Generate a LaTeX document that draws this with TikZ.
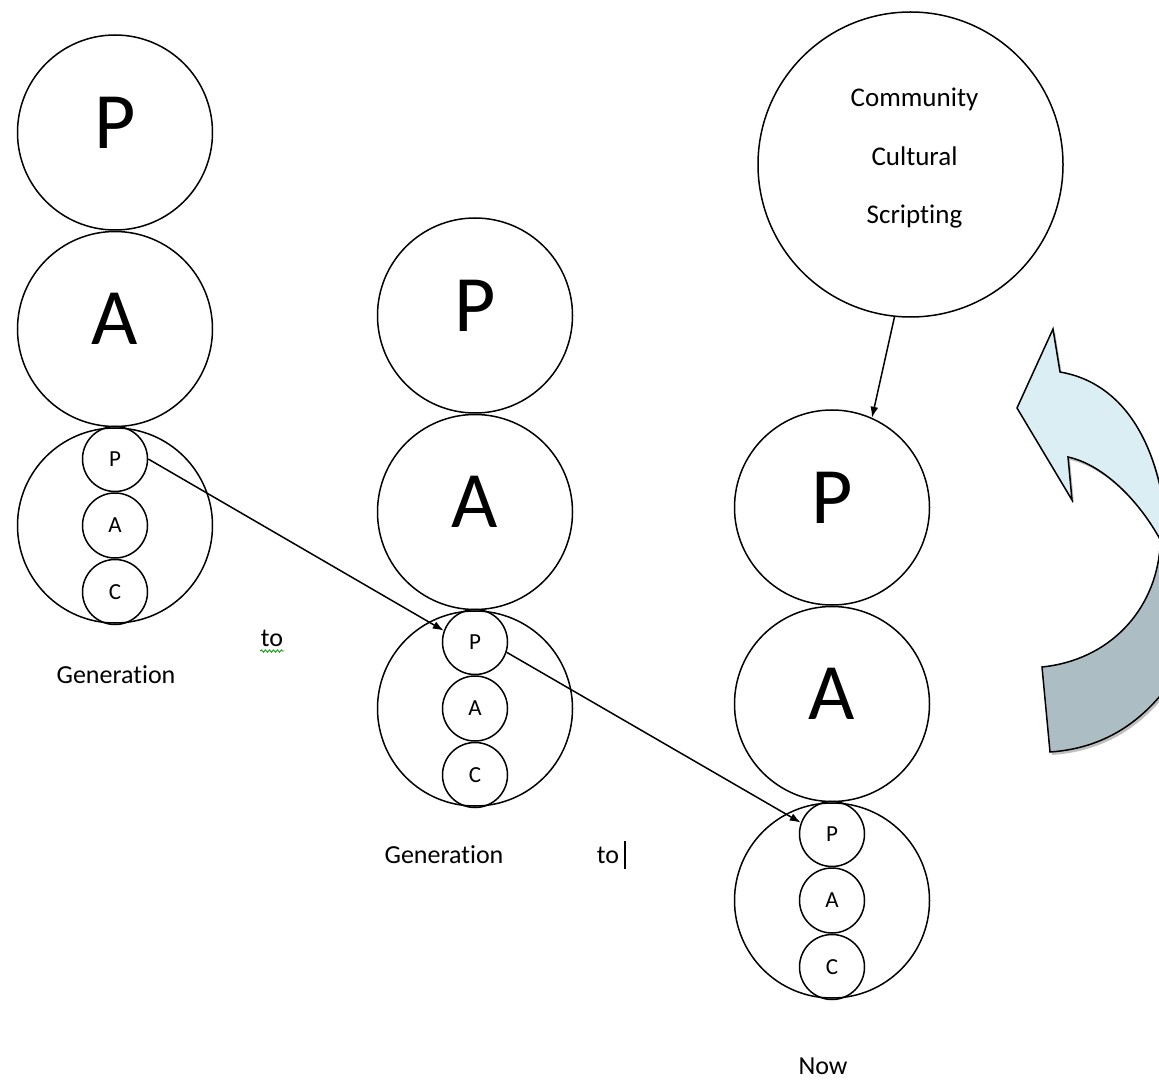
\documentclass[tikz,border=0pt]{standalone}
\usepackage{fontspec}
\setmainfont{Carlito}[Ligatures=NoCommon]
\usetikzlibrary{arrows.meta, positioning, decorations.pathmorphing, shadows}

\begin{document}
\begin{tikzpicture}[x=1pt, y=-1pt, >={Latex[length=11pt,width=8pt]}, line width=1.5pt,
  big/.style={draw, circle, inner sep=0pt, minimum size=195pt, font=\fontsize{80}{80}\selectfont, text depth=20pt},
  small/.style={draw, circle, inner sep=0pt, minimum size=65pt, font=\fontsize{23}{23}\selectfont},
  lbl/.style={inner sep=0pt, font=\fontsize{26}{26}\selectfont}]
\useasboundingbox (0,0) rectangle (1159,1083);

% first generation
\node[big] (P1) at (115,132.5) {P};
\node[big, below=0pt of P1] (A1) {A};
\node[big, below=0pt of A1] (G1) {};
\node[small] (a1) at (G1) {A};
\node[small, above=0pt of a1] (p1) {P};
\node[small, below=0pt of a1] (c1) {C};

% second generation
\node[big] (P2) at (475,315.5) {P};
\node[big, below=0pt of P2] (A2) {A};
\node[big, below=0pt of A2] (G2) {};
\node[small] (a2) at (G2) {A};
\node[small, above=0pt of a2] (p2) {P};
\node[small, below=0pt of a2] (c2) {C};

% now
\node[big] (P3) at (832,507.5) {P};
\node[big, below=0pt of P3] (A3) {A};
\node[big, below=0pt of A3] (G3) {};
\node[small] (a3) at (G3) {A};
\node[small, above=0pt of a3] (p3) {P};
\node[small, below=0pt of a3] (c3) {C};

\node[draw, circle, inner sep=0pt, minimum size=305pt, align=center, text depth=17pt, font=\fontsize{27}{58.5}\selectfont] (CCS) at (910.5,164.5) {\hspace*{8pt}Community\\\hspace*{8pt}Cultural\\\hspace*{8pt}Scripting};

\draw[->] (p1.east) -- (p2.160);
\draw[->] (p2.-18) -- (p3.160);
\draw[->] (CCS.-96) -- (P3.66);

\node[lbl] (gen1) at (116,675) {Generation};
\node[lbl] (to1) at (272,638) {to};
\node[lbl] (gen2) at (444,855) {Generation};
\node[lbl] (to2) at (608,855) {to};
\node[lbl] (now) at (823,1066) {Now};

\draw[green!60!black, line width=0.8pt, decorate, decoration={snake, amplitude=1.2pt, segment length=4pt}] ([yshift=-4pt]to1.south west) -- ([yshift=-4pt]to1.south east);
\draw[line width=2.5pt] ([xshift=5pt, yshift=14pt]to2.east) -- ([xshift=5pt, yshift=-14pt]to2.east);

% curved arrow at the right edge
\begin{scope}
\clip (0,0) rectangle (1159,1083);
\draw[fill={rgb,255:red,172;green,190;blue,196}, drop shadow={shadow xshift=2pt, shadow yshift=-3pt, opacity=0.5}]
  (1160,548) .. controls (1155,610) and (1110,660) .. (1042,667) -- (1050,752)
  .. controls (1110,748) and (1160,715) .. (1195,640) -- (1185,540) -- cycle;
\draw[fill={rgb,255:red,219;green,238;blue,244}, drop shadow={shadow xshift=2pt, shadow yshift=-3pt, opacity=0.5}]
  (1053,329) -- (1060,372) .. controls (1120,382) and (1165,440) .. (1168,555)
  .. controls (1145,505) and (1105,465) .. (1068,457) -- (1072,500) -- (1017,408) -- cycle;
\end{scope}
\end{tikzpicture}
\end{document}
